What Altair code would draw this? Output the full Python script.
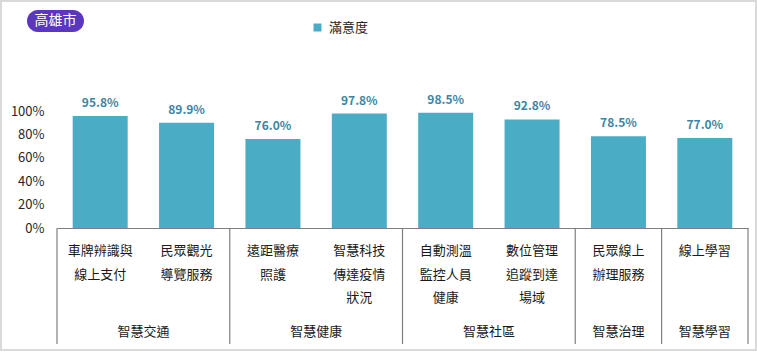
import altair as alt
import pandas as pd

categories = ["車牌辨識與\n線上支付", "民眾觀光\n導覽服務", "遠距醫療\n照護", "智慧科技\n傳達疫情\n狀況",
              "自動測溫\n監控人員\n健康", "數位管理\n追蹤到達\n場域", "民眾線上\n辦理服務", "線上學習"]
groups = ["智慧交通", "智慧交通", "智慧健康", "智慧健康", "智慧社區", "智慧社區", "智慧治理", "智慧學習"]
values = [95.8, 89.9, 76.0, 97.8, 98.5, 92.8, 78.5, 77.0]
y_ticks = [0, 20, 40, 60, 80, 100]
series_name = "滿意度"
city = "高雄市"

FONT = "Noto Sans CJK TC"
BAR = "#4BACC6"
W, H = 691, 117
PL, PT = 57, 111

df = pd.DataFrame({
    "cat": categories,
    "grp": groups,
    "pos": [i + 0.5 for i in range(len(categories))],
    "val": [v / 100 for v in values],
    "series": series_name,
})

# group extents
g_rows = []
seen = []
for i, g in enumerate(groups):
    if g not in seen:
        seen.append(g)
        g_rows.append({"grp": g, "start": i, "count": 0})
    g_rows[-1]["count"] += 1
gdf = pd.DataFrame(g_rows)
gdf["center"] = gdf["start"] + gdf["count"] / 2
bounds = pd.DataFrame({"b": list(gdf["start"]) + [len(categories)]})

xs = alt.Scale(domain=[0, len(categories)], nice=False, zero=False, padding=0)
ys = alt.Scale(domain=[0, 1], nice=False, padding=0)

x_axis = alt.Axis(labels=False, ticks=False, grid=False, title=None,
                  domain=True, domainColor="#7f7f7f", domainWidth=1.2)
y_axis = alt.Axis(values=[t / 100 for t in y_ticks], format=".0%", title=None,
                  domain=False, ticks=False, grid=False, labelPadding=13,
                  labelOverlap=False, labelFlush=False,
                  labelFontSize=13, labelColor="#262626", labelFont=FONT)

bars = alt.Chart(df).mark_bar(size=55).encode(
    x=alt.X("pos:Q", scale=xs, axis=x_axis),
    y=alt.Y("val:Q", scale=ys, axis=y_axis),
    color=alt.Color("series:N", scale=alt.Scale(domain=[series_name], range=[BAR]),
                    legend=alt.Legend(title=None, orient="none", legendX=254, legendY=-90,
                                      symbolType="square", symbolSize=64, symbolStrokeWidth=0,
                                      labelFontSize=13, labelFont=FONT, labelColor="#262626",
                                      labelOffset=5, padding=0)),
)

vlabels = alt.Chart(df).mark_text(dy=-13, fontSize=12, fontWeight="bold", font=FONT,
                                  color="#3d84a6", baseline="middle").encode(
    x=alt.X("pos:Q", scale=xs, axis=x_axis),
    y=alt.Y("val:Q", scale=ys, axis=y_axis),
    text=alt.Text("val:Q", format=".1%"),
)

catlabels = alt.Chart(df).mark_text(lineBreak="\n", lineHeight=23.5, fontSize=13, font=FONT,
                                    color="#1a1a1a", baseline="middle").encode(
    x=alt.X("pos:Q", scale=xs, axis=x_axis),
    y=alt.value(140),
    text="cat:N",
)

grplabels = alt.Chart(gdf).mark_text(fontSize=13, font=FONT, color="#1a1a1a",
                                     baseline="middle").encode(
    x=alt.X("center:Q", scale=xs, axis=x_axis),
    y=alt.value(221),
    text="grp:N",
)

seps = alt.Chart(bounds).mark_rule(color="#7f7f7f", strokeWidth=1.2).encode(
    x=alt.X("b:Q", scale=xs, axis=x_axis),
    y=alt.value(H),
    y2=alt.value(H + 116),
)

one = pd.DataFrame({"t": [city]})
border = alt.Chart(one).mark_rect(fill=None, stroke="#d9d9d9", strokeWidth=2).encode(
    x=alt.value(1 - PL), x2=alt.value(756 - PL),
    y=alt.value(1 - PT), y2=alt.value(350 - PT),
)
badge = alt.Chart(one).mark_rect(color="#5B37C0", cornerRadius=11).encode(
    x=alt.value(27 - PL), x2=alt.value(84 - PL),
    y=alt.value(10 - PT), y2=alt.value(32 - PT),
)
badge_text = alt.Chart(one).mark_text(color="white", fontSize=14, font=FONT,
                                      baseline="middle").encode(
    x=alt.value(55.5 - PL), y=alt.value(21 - PT), text="t:N",
)

chart = alt.layer(border, bars, vlabels, catlabels, grplabels, seps, badge, badge_text).properties(
    width=W, height=H,
    autosize=alt.AutoSizeParams(type="none"),
    padding={"left": PL, "top": PT, "right": 757 - PL - W, "bottom": 352 - PT - H},
    background="white",
).configure_view(stroke=None).configure_axis(labelOverlap=False)

chart.save("out.html", embed_options={"renderer": "svg", "actions": False})
